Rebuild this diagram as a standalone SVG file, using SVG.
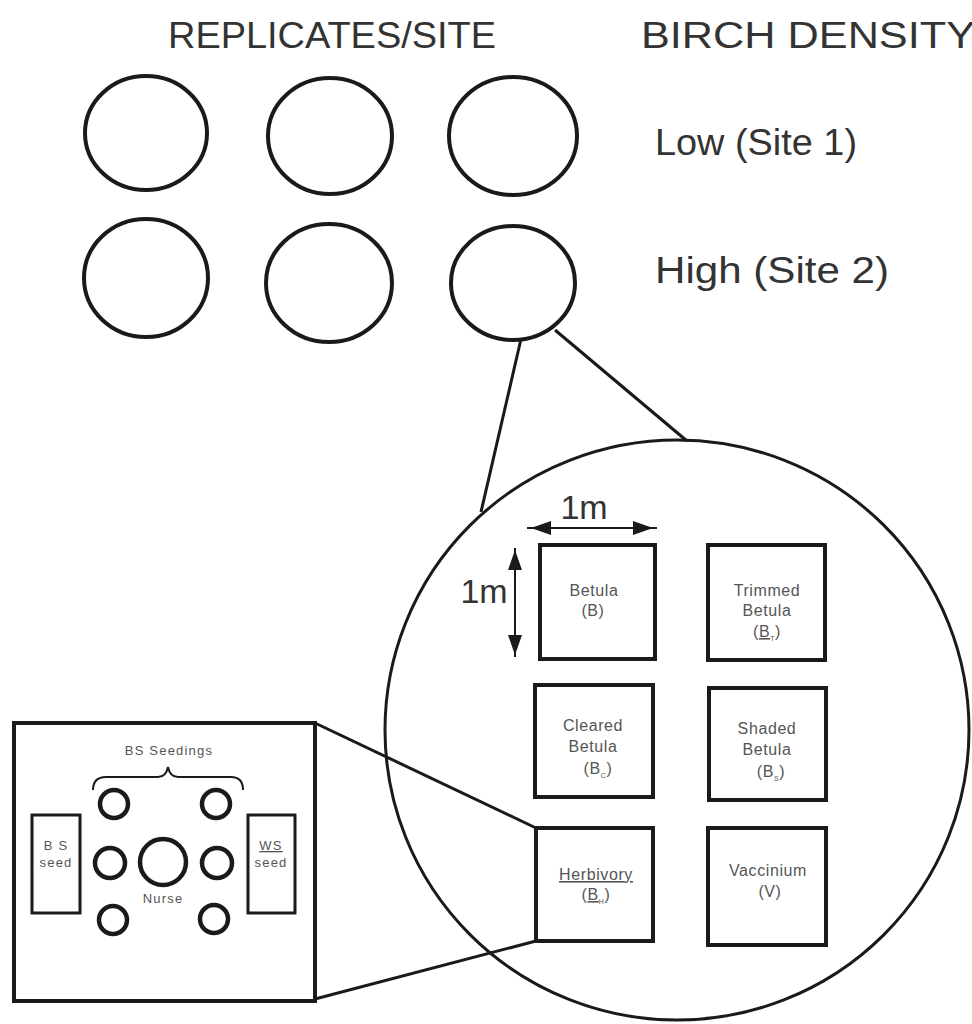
<svg xmlns="http://www.w3.org/2000/svg" width="972" height="1024" viewBox="0 0 972 1024">
<style>
.big{font-family:"Liberation Sans",Arial,sans-serif;font-size:36px;fill:#333}
.dim{font-family:"Liberation Sans",Arial,sans-serif;font-size:34px;fill:#333;text-anchor:middle}
.lbl{font-family:"Liberation Sans",Arial,sans-serif;font-size:16px;fill:#555;text-anchor:middle;letter-spacing:0.6px}
.sm{font-family:"Liberation Sans",Arial,sans-serif;font-size:13px;fill:#555;text-anchor:middle;letter-spacing:1.2px}
.sub{font-size:7px}
.rep{fill:none;stroke:#1a1a1a;stroke-width:4}
.plot{fill:none;stroke:#1a1a1a;stroke-width:4}
.conn{fill:none;stroke:#1a1a1a;stroke-width:3}
.seed{fill:none;stroke:#1a1a1a;stroke-width:4.5}
</style>
<defs>
<marker id="arr" viewBox="0 0 20 14" refX="20" refY="7" markerWidth="20" markerHeight="14" markerUnits="userSpaceOnUse" orient="auto-start-reverse">
<path d="M0,0 L20,7 L0,14 z" fill="#1a1a1a"/>
</marker>
</defs>
<rect width="972" height="1024" fill="#fff"/>

<g id="headers">
<text class="big" x="332" y="48" text-anchor="middle" textLength="328" lengthAdjust="spacingAndGlyphs">REPLICATES/SITE</text>
<text class="big" x="641" y="48" textLength="334" lengthAdjust="spacingAndGlyphs">BIRCH DENSITY</text>
<text class="big" x="655" y="155" textLength="202" lengthAdjust="spacingAndGlyphs">Low (Site 1)</text>
<text class="big" x="655" y="283" textLength="234" lengthAdjust="spacingAndGlyphs">High (Site 2)</text>
</g>

<g id="replicates">
<ellipse id="rep1" class="rep" cx="146" cy="133" rx="61" ry="57"/>
<ellipse id="rep2" class="rep" cx="330" cy="136" rx="62" ry="58"/>
<ellipse id="rep3" class="rep" cx="513" cy="136" rx="64" ry="59"/>
<ellipse id="rep4" class="rep" cx="146" cy="278" rx="62" ry="59"/>
<ellipse id="rep5" class="rep" cx="329" cy="283" rx="63" ry="59"/>
<ellipse id="rep6" class="rep" cx="513" cy="283" rx="62" ry="57"/>
</g>

<g id="connectors">
<line class="conn" x1="521" y1="339" x2="481" y2="512"/>
<line class="conn" x1="555" y1="330" x2="687" y2="441"/>
<line class="conn" x1="315" y1="723" x2="536" y2="828"/>
<line class="conn" x1="536" y1="941" x2="315" y2="999"/>
</g>

<g id="site-plot">
<ellipse class="conn" cx="677" cy="730" rx="292" ry="290"/>
</g>

<g id="dimensions">
<line x1="527" y1="528" x2="657" y2="528" stroke="#1a1a1a" stroke-width="2"/>
<line x1="531" y1="528" x2="653" y2="528" stroke="none" marker-start="url(#arr)" marker-end="url(#arr)"/>
<text class="dim" x="584" y="519">1m</text>
<line x1="515" y1="548" x2="515" y2="657" stroke="#1a1a1a" stroke-width="2"/>
<line x1="515" y1="550" x2="515" y2="655" stroke="none" marker-start="url(#arr)" marker-end="url(#arr)"/>
<text class="dim" x="484" y="603">1m</text>
</g>

<g id="plot-betula">
<rect class="plot" x="540" y="545" width="115" height="114"/>
<text class="lbl" x="594" y="596">Betula</text>
<text class="lbl" x="593" y="616">(B)</text>
</g>

<g id="plot-trimmed">
<rect class="plot" x="708" y="545" width="117" height="115"/>
<text class="lbl" x="767" y="596">Trimmed</text>
<text class="lbl" x="767" y="616">Betula</text>
<text class="lbl" x="767" y="637">(<tspan text-decoration="underline">B</tspan><tspan class="sub" dy="4">T</tspan><tspan dy="-4">)</tspan></text>
</g>

<g id="plot-cleared">
<rect class="plot" x="535" y="685" width="118" height="112"/>
<text class="lbl" x="593" y="731">Cleared</text>
<text class="lbl" x="593" y="752">Betula</text>
<text class="lbl" x="598" y="774">(B<tspan class="sub" dy="4">C</tspan><tspan dy="-4">)</tspan></text>
</g>

<g id="plot-shaded">
<rect class="plot" x="709" y="688" width="117" height="112"/>
<text class="lbl" x="767" y="734">Shaded</text>
<text class="lbl" x="767" y="755">Betula</text>
<text class="lbl" x="771" y="777">(B<tspan class="sub" dy="4">S</tspan><tspan dy="-4">)</tspan></text>
</g>

<g id="plot-herbivory">
<rect class="plot" x="536" y="828" width="117" height="113"/>
<text class="lbl" x="596" y="880" text-decoration="underline">Herbivory</text>
<text class="lbl" x="596" y="900">(<tspan text-decoration="underline">B</tspan><tspan class="sub" dy="4">H</tspan><tspan dy="-4">)</tspan></text>
</g>

<g id="plot-vaccinium">
<rect class="plot" x="708" y="828" width="118" height="117"/>
<text class="lbl" x="768" y="876">Vaccinium</text>
<text class="lbl" x="770" y="897">(V)</text>
</g>

<g id="quadrat">
<rect class="plot" x="14" y="723" width="301" height="278"/>
<text class="sm" x="169" y="755">BS Seedings</text>
<path d="M93,790 Q93,777 106,777 L158,777 Q166,777 168,767 Q170,777 178,777 L231,777 Q243,777 243,790" fill="none" stroke="#1a1a1a" stroke-width="2"/>
<circle class="seed" cx="114" cy="804" r="14"/>
<circle class="seed" cx="216" cy="804" r="14"/>
<circle class="seed" cx="110" cy="863" r="15"/>
<circle class="seed" cx="217" cy="863" r="15"/>
<circle class="seed" cx="113" cy="920" r="14"/>
<circle class="seed" cx="214" cy="919" r="14"/>
<circle class="seed" cx="163" cy="862" r="23"/>
<text class="sm" x="163" y="903">Nurse</text>
<rect x="32" y="815" width="48" height="98" fill="none" stroke="#1a1a1a" stroke-width="3"/>
<text class="sm" x="56" y="850">B S</text>
<text class="sm" x="56" y="867">seed</text>
<rect x="248" y="815" width="47" height="98" fill="none" stroke="#1a1a1a" stroke-width="3"/>
<text class="sm" x="271" y="850" text-decoration="underline">WS</text>
<text class="sm" x="271" y="867">seed</text>
</g>
</svg>
